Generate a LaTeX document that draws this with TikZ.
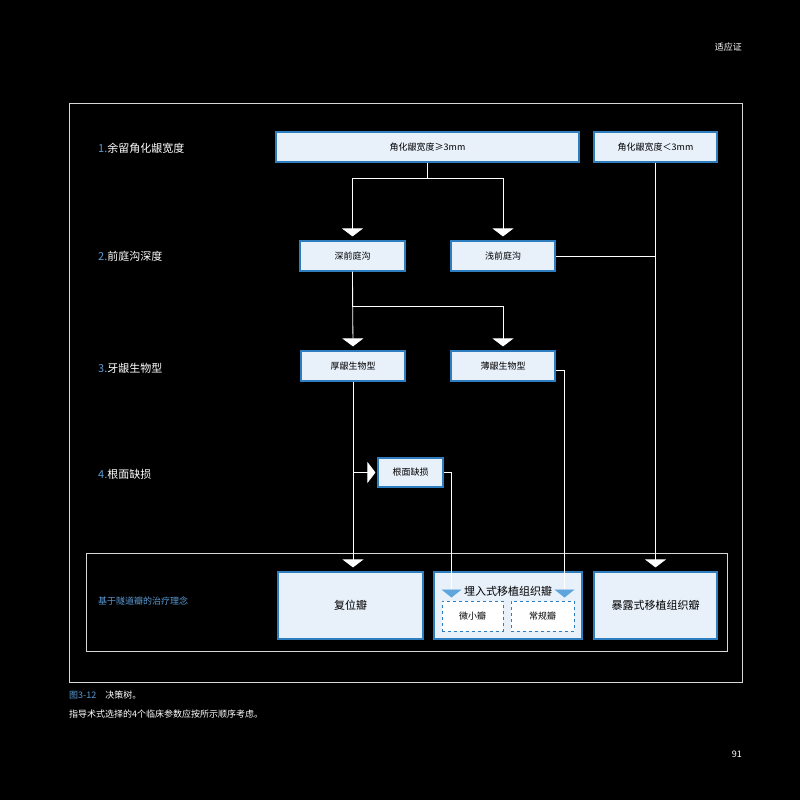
\documentclass[tikz,border=0pt]{standalone}
\usepackage{fontspec}
\setmainfont{Noto Sans CJK SC}
\usepackage{xcolor}
\usetikzlibrary{arrows.meta}
\definecolor{labelblue}{RGB}{91,155,213}
\definecolor{bordblue}{RGB}{46,125,190}
\definecolor{boxfill}{RGB}{232,240,250}
\definecolor{arrblue}{RGB}{93,165,220}
\definecolor{framegray}{RGB}{215,215,215}

\begin{document}
\begin{tikzpicture}[x=1pt,y=-1pt,
  box/.style={draw=bordblue,fill=boxfill,line width=1.2pt,inner sep=0pt,minimum height=30pt,font=\fontsize{9}{10}\selectfont},
  bigbox/.style={box,minimum height=67pt,font=\fontsize{11}{12}\selectfont},
  dashbox/.style={draw=bordblue,fill=white,dashed,line width=1pt,inner sep=0pt,minimum height=30pt,font=\fontsize{9}{10}\selectfont},
  warr/.style={white,line width=0.8pt,-{Triangle[width=21pt,length=8pt,fill=white]},shorten >=4pt},
  barr/.style={white,line width=0.8pt,-{Triangle[width=20pt,length=8pt,color=arrblue,fill=arrblue]},shorten >=3pt},
  lbl/.style={anchor=west,white,inner sep=0pt,font=\fontsize{11}{12}\selectfont},
  small/.style={anchor=west,white,inner sep=0pt,font=\fontsize{9}{10}\selectfont}]
%Draw background and frames
\fill[black] (0,0) rectangle (800,800);
\useasboundingbox (0,0) rectangle (800,800);
\draw[framegray,line width=0.8pt] (69,103) rectangle (742,682);
\draw[framegray,line width=0.8pt] (86,553) rectangle (727,651);

%Draw header, caption and page number
\node[small,anchor=east] (head) at (742,47) {适应证};
\node[small] (cap) at (69,695) {\textcolor{labelblue}{图3-12}\quad 决策树。};
\node[small] (note) at (69,714) {指导术式选择的4个临床参数应按所示顺序考虑。};
\node[small,anchor=east] (page) at (742,754) {91};

%Draw left-hand labels
\node[lbl] (l1) at (98,148) {\textcolor{labelblue}{1.}余留角化龈宽度};
\node[lbl] (l2) at (98,256) {\textcolor{labelblue}{2.}前庭沟深度};
\node[lbl] (l3) at (98,368) {\textcolor{labelblue}{3.}牙龈生物型};
\node[lbl] (l4) at (98,474) {\textcolor{labelblue}{4.}根面缺损};
\node[small,labelblue] (l5) at (98,601) {基于隧道瓣的治疗理念};

%Draw decision boxes
\node[box,minimum width=303pt] (ge) at (427.5,147) {角化龈宽度≥3mm};
\node[box,minimum width=123pt] (lt) at (655.5,147) {角化龈宽度＜3mm};
\node[box,minimum width=105pt] (shen) at (352.5,256) {深前庭沟};
\node[box,minimum width=104pt] (qian) at (503,256) {浅前庭沟};
\node[box,minimum width=104pt] (hou) at (353,366) {厚龈生物型};
\node[box,minimum width=104pt] (bo) at (503,366) {薄龈生物型};
\node[box,minimum width=65pt,minimum height=29pt] (gen) at (410.5,472.5) {根面缺损};

%Draw treatment boxes
\node[bigbox,minimum width=145pt] (fw) at (350.5,605.5) {复位瓣};
\node[bigbox,minimum width=148pt] (mr) at (508,605.5) {};
\node[font=\fontsize{11}{12}\selectfont,inner sep=0pt] (mrt) at (508,591) {埋入式移植组织瓣};
\node[bigbox,minimum width=123pt] (bl) at (655.5,605.5) {暴露式移植组织瓣};
\node[dashbox,minimum width=61pt] (wx) at (472.5,616) {微小瓣};
\node[dashbox,minimum width=63pt] (cg) at (542.5,616) {常规瓣};

%Draw connectors
\draw[white,line width=0.8pt] (ge.south) -- ++(0,16) coordinate (j1);
\draw[warr] (j1) -| (shen.north);
\draw[warr] (j1) -| (qian.north);
\draw[warr] (lt.south) -- (bl.north);
\draw[white,line width=0.8pt] (qian.east) -- (qian.east -| lt.south);
\draw[white,line width=0.8pt] (shen.south) -- ++(0,35) coordinate (j2);
\draw[warr] (shen.south) -- (hou.north);
\draw[warr] (j2) -| (bo.north);
\draw[warr] (hou.south) -- (hou.south |- fw.north);
\draw[warr,shorten >=2pt] (hou.south |- gen.west) -- (gen.west);
\draw[barr] (gen.east) -| ([xshift=10pt]wx.north west);
\draw[barr] ([yshift=-4pt]bo.east) -| ([xshift=-10pt]cg.north east);
\end{tikzpicture}
\end{document}
